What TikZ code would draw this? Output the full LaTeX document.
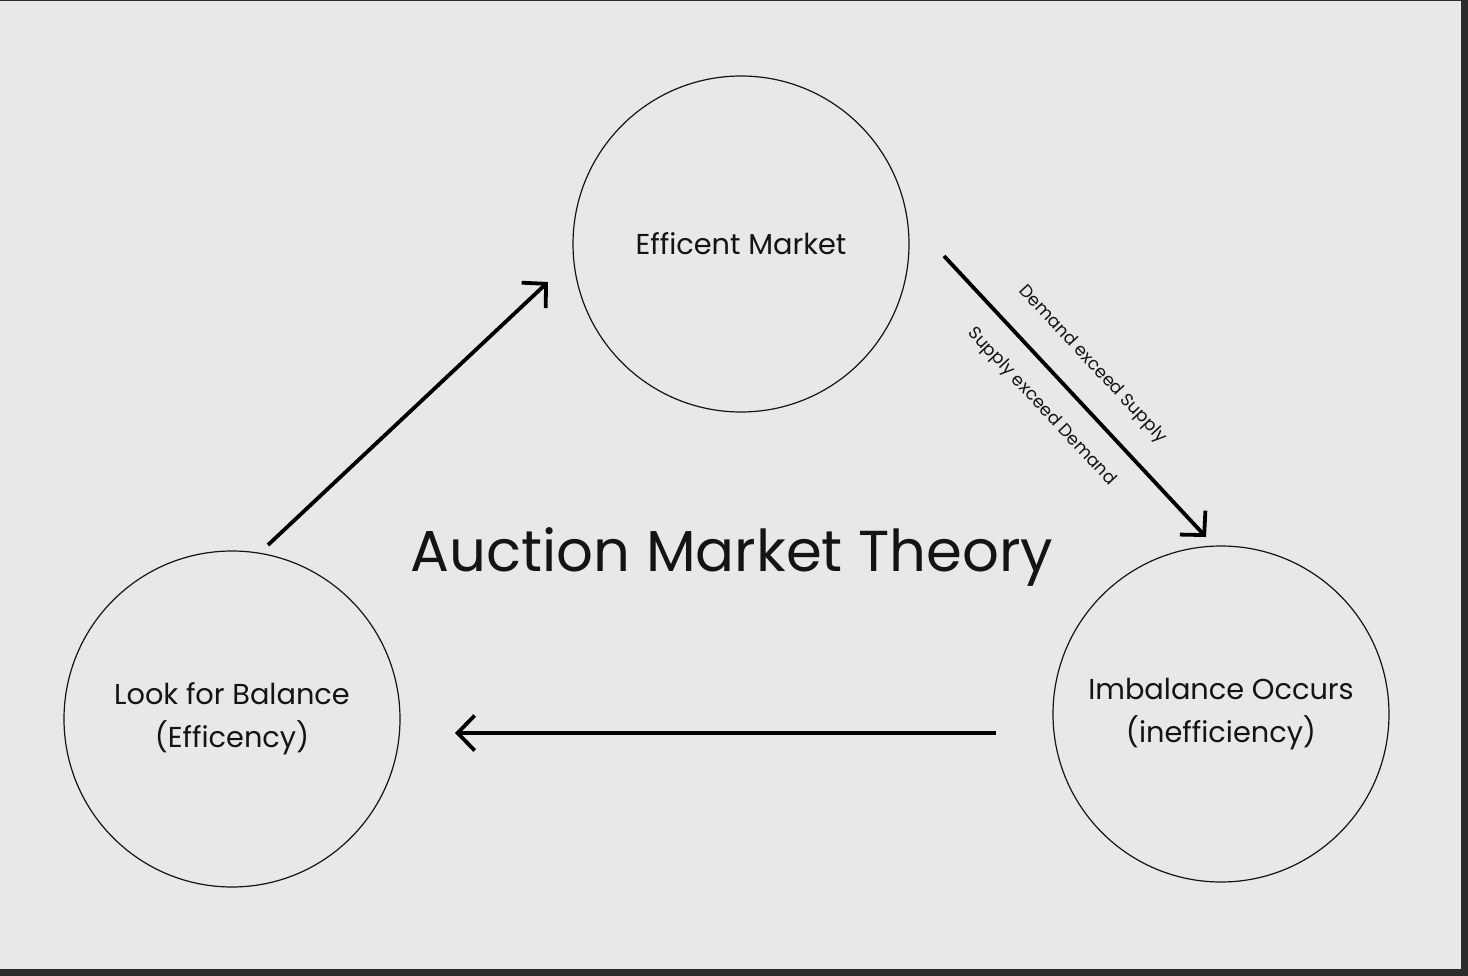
\documentclass[tikz,border=0pt]{standalone}
\usepackage{fontspec}
\setmainfont{Poppins}
\usetikzlibrary{arrows.meta,calc,positioning}
\definecolor{bggray}{HTML}{E8E8E8}
\definecolor{framegray}{HTML}{2B2B2B}
\definecolor{inkgray}{HTML}{141414}

\begin{document}
\begin{tikzpicture}[x=1pt,y=-1pt,
every node/.style={text=inkgray},
stage/.style={circle,draw=inkgray,line width=1.2pt,minimum size=336pt,inner sep=0pt,
  font=\fontsize{28.8}{43}\selectfont,align=center},
flow/.style={line width=3.8pt,draw=black,-{Straight Barb[length=17pt,width=35pt,line width=3.8pt]}},
side/.style={font=\fontsize{17.5}{20}\selectfont,sloped,inner sep=0pt}]
\fill[framegray] (0,0) rectangle (1468,976);
\fill[bggray] (0,1) rectangle (1461,969);
\useasboundingbox (0,0) rectangle (1468,976);
\node[stage] (C1) at (741,244) {Efficent Market};
\node[stage] (C2) at (1221,714) {\raisebox{-5pt}{Imbalance Occurs}\\\raisebox{-5pt}{(inefficiency)}};
\node[stage] (C3) at (232,719) {\raisebox{-5pt}{Look for Balance}\\\raisebox{-5pt}{(Efficency)}};
\node[font=\fontsize{57.7}{64}\selectfont] (T) at (732,557) {Auction Market Theory};
\coordinate (a1) at (268,545);
\coordinate (b1) at (548,282);
\coordinate (a2) at (944,256);
\coordinate (b2) at (1206,537);
\coordinate (a3) at (996,733);
\coordinate (b3) at (455,733);
\draw[flow] (a1)--(b1);
\draw[flow] (a2)--(b2) node[side,pos=0.47,above=24pt] {Demand exceed Supply}
  node[side,pos=0.46,below=21pt] {Supply exceed Demand};
\draw[flow] (a3)--(b3);
\end{tikzpicture}
\end{document}
